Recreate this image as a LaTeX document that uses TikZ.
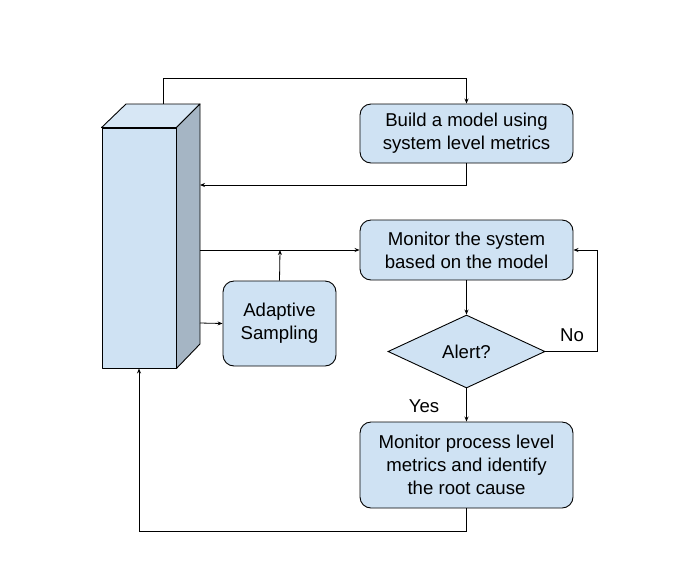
\documentclass[tikz,border=0pt]{standalone}
\usepackage{fontspec}
\setmainfont{Liberation Sans}
\usetikzlibrary{arrows.meta,shapes.geometric}
\definecolor{boxfill}{HTML}{CFE2F3}
\definecolor{topfill}{HTML}{D7E7F5}
\definecolor{sidefill}{HTML}{A5B5C4}
\tikzset{
  every picture/.style={x=1pt,y=-1pt},
  proc/.style={draw=black,line width=0.9pt,fill=boxfill,rounded corners=11pt,
    align=center,inner sep=0pt,font=\fontsize{18.6}{23}\selectfont},
  dec/.style={draw=black,line width=0.9pt,fill=boxfill,diamond,inner sep=0pt,
    font=\fontsize{18.6}{23}\selectfont},
  conn/.style={line width=0.8pt,-{Stealth[length=5pt,width=4pt]}},
  lbl/.style={font=\fontsize{18.6}{23}\selectfont,inner sep=0pt},
  face/.style={draw=black,line width=0.9pt,line join=round}
}
\begin{document}
\begin{tikzpicture}
\useasboundingbox (0,0) rectangle (692,584);
% 3D column
\node[face,fill=boxfill,minimum width=74pt,minimum height=240pt,inner sep=0pt] (col) at (139,248) {};
\coordinate (tbl) at (126,104);
\coordinate (tbr) at (200,104);
\coordinate (sbr) at (200,344);
\draw[face,fill=topfill] (col.north west) -- (tbl) -- (tbr) -- (col.north east) -- cycle;
\draw[face,fill=sidefill] (col.north east) -- (tbr) -- (sbr) -- (col.south east) -- cycle;
\coordinate (ctop) at (163,104);
\coordinate (s1) at (200,185);
\coordinate (s2) at (200,250);
\coordinate (s3) at (200,323);
% boxes
\node[proc,minimum width=213pt,minimum height=59pt] (build) at (466.5,133.5) {Build a model using\\system level metrics};
\node[proc,minimum width=213pt,minimum height=60pt] (mon) at (466.5,250) {Monitor the system\\based on the model};
\node[proc,minimum width=113pt,minimum height=85pt] (ada) at (279.5,323.5) {Adaptive\\Sampling};
\node[dec,minimum width=157pt,minimum height=73pt] (alert) at (466.5,351.5) {Alert?};
\node[proc,minimum width=213pt,minimum height=86pt] (root) at (466.5,465) {Monitor process level\\metrics and identify\\the root cause};
\coordinate (j) at (280,250);
% connectors
\draw[conn] (ctop) -- (163,78) -| (build.north);
\draw[conn] (build.south) |- (s1);
\draw[conn] (s2) -- (mon.west);
\draw[conn] (ada.north) -- (j);
\draw[conn] (s3) -- (ada.west);
\draw[conn] (mon.south) -- (alert.north);
\draw[conn] (alert.east) -- (597,351.5) |- (mon.east);
\draw[conn] (alert.south) -- (root.north);
\draw[conn] (root.south) -- (466.5,531) -| (col.south);
\node[lbl] (no) at (572,335) {No};
\node[lbl] (yes) at (424,406) {Yes};
\end{tikzpicture}
\end{document}
